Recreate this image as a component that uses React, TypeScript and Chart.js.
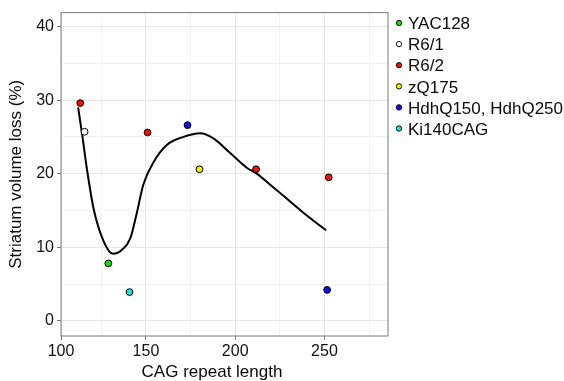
import React, { useEffect, useRef } from "react";
import { Chart, registerables } from "chart.js";

Chart.register(...registerables);

// ---- data ----
const seriesNames = ["YAC128", "R6/1", "R6/2", "zQ175", "HdhQ150, HdhQ250", "Ki140CAG"];
const seriesColors = ["#19d419", "#ffffff", "#ee1111", "#f2ee00", "#1010e0", "#22dede"];

const yac128Cag = [128.9];
const yac128Loss = [7.8];
const r61Cag = [115.6];
const r61Loss = [25.7];
const r62Cag = [113.2, 150.9, 211.7, 252.4];
const r62Loss = [29.6, 25.6, 20.6, 19.5];
const zq175Cag = [180.0];
const zq175Loss = [20.6];
const hdhCag = [173.3, 251.5];
const hdhLoss = [26.6, 4.2];
const ki140Cag = [140.8];
const ki140Loss = [3.9];

const fitCag = [112, 114.2, 117, 120.7, 126.3, 131.5, 136.6, 141.2, 145, 148.5, 154.3, 161.7, 171, 180.4, 187.8, 197.2, 206.5, 212, 219.6, 227, 238.2, 250.9];
const fitLoss = [29.0, 25.4, 20.5, 15.2, 10.8, 9.1, 9.65, 11.2, 14.8, 18.5, 21.6, 23.9, 25.0, 25.5, 24.8, 22.8, 20.8, 20.0, 18.5, 17.0, 14.7, 12.3];

const xTickValues = [100, 125, 150, 175, 200, 225, 250, 275];
const xTickLabels = ["100", "", "150", "", "200", "", "250", ""];
const yTickValues = [0, 5, 10, 15, 20, 25, 30, 35, 40];
const yTickLabels = ["0", "", "10", "", "20", "", "30", "", "40"];

const xTitle = "CAG repeat length";
const yTitle = "Striatum volume loss (%)";

const FONT = "'Liberation Sans', Arial, Helvetica, sans-serif";

const pts = (xs: number[], ys: number[]) => xs.map((x, i) => ({ x, y: ys[i] }));

export default function App() {
  const ref = useRef<HTMLCanvasElement | null>(null);

  useEffect(() => {
    const canvas = ref.current;
    if (!canvas) return;

    const groups = [
      pts(yac128Cag, yac128Loss),
      pts(r61Cag, r61Loss),
      pts(r62Cag, r62Loss),
      pts(zq175Cag, zq175Loss),
      pts(hdhCag, hdhLoss),
      pts(ki140Cag, ki140Loss),
    ];

    const scatterSets = groups.map((data, i) => ({
      type: "scatter" as const,
      label: seriesNames[i],
      data,
      backgroundColor: seriesColors[i],
      borderColor: "#000000",
      borderWidth: 1,
      pointRadius: 3.4,
      pointHoverRadius: 3.4,
    }));

    const fitSet = {
      type: "line" as const,
      label: "fit",
      data: pts(fitCag, fitLoss),
      borderColor: "#000000",
      borderWidth: 2,
      pointRadius: 0,
      fill: false,
      cubicInterpolationMode: "monotone" as const,
    };

    const frame = {
      id: "frame",
      beforeDatasetsDraw(chart: any) {
        const { ctx, chartArea: a } = chart;
        ctx.save();
        ctx.strokeStyle = "#7a7a7a";
        ctx.lineWidth = 1;
        ctx.strokeRect(a.left, a.top, a.right - a.left, a.bottom - a.top);
        ctx.restore();
      },
      afterDraw(chart: any) {
        const { ctx } = chart;
        ctx.save();
        // legend
        ctx.font = `17px ${FONT}`;
        ctx.textAlign = "left";
        ctx.textBaseline = "alphabetic";
        seriesNames.forEach((name, i) => {
          const cy = 23 + i * 21.1;
          ctx.beginPath();
          ctx.arc(399, cy, 2.7, 0, Math.PI * 2);
          ctx.fillStyle = seriesColors[i];
          ctx.fill();
          ctx.lineWidth = 0.9;
          ctx.strokeStyle = "#000000";
          ctx.stroke();
          ctx.fillStyle = "#0a0a0a";
          ctx.fillText(name, 408, cy + 6.2);
        });
        // x title
        ctx.textAlign = "center";
        ctx.fillText(xTitle, 212, 376.5);
        ctx.restore();
      },
    };

    const chart = new Chart(canvas, {
      data: { datasets: [...scatterSets, fitSet] as any },
      options: {
        animation: false,
        responsive: false,
        devicePixelRatio: 1,
        layout: { padding: { top: 7, right: 176, left: 0, bottom: 0 } },
        plugins: { legend: { display: false }, tooltip: { enabled: false } },
        scales: {
          x: {
            type: "linear",
            min: 102.4,
            max: 285.6,
            afterBuildTicks: (s: any) => {
              s.ticks = xTickValues.map((v) => ({ value: Math.max(v, s.min) }));
            },
            afterFit: (s: any) => {
              s.height = 45;
            },
            ticks: {
              autoSkip: false,
              maxRotation: 0,
              padding: 2,
              color: "#111111",
              font: { family: FONT, size: 16 },
              callback: (_v: any, i: number) => xTickLabels[i],
            },
            grid: {
              color: (c: any) => (c.index % 2 === 0 ? "#e6e6e6" : "#f3f3f3"),
              tickColor: (c: any) => (c.index % 2 === 0 ? "#7a7a7a" : "rgba(0,0,0,0)"),
              tickLength: 4,
              lineWidth: 1,
            },
            border: { display: false },
            title: { display: false },
          },
          y: {
            type: "linear",
            min: -2.07,
            max: 41.9,
            afterBuildTicks: (s: any) => {
              s.ticks = yTickValues.map((v) => ({ value: v }));
            },
            afterFit: (s: any) => {
              s.width = 61;
            },
            ticks: {
              autoSkip: false,
              padding: 3,
              color: "#111111",
              font: { family: FONT, size: 16 },
              callback: (_v: any, i: number) => yTickLabels[i],
            },
            grid: {
              color: (c: any) => (c.index % 2 === 0 ? "#e6e6e6" : "#f3f3f3"),
              tickColor: (c: any) => (c.index % 2 === 0 ? "#7a7a7a" : "rgba(0,0,0,0)"),
              tickLength: 4,
              lineWidth: 1,
            },
            border: { display: false },
            title: {
              display: true,
              text: yTitle,
              color: "#0a0a0a",
              font: { family: FONT, size: 17 },
              padding: { top: 6.5, bottom: 0 },
            },
          },
        },
      },
      plugins: [frame],
    } as any);

    return () => chart.destroy();
  }, []);

  return (
    <div style={{ position: "absolute", left: 0, top: 0, width: 564, height: 381, background: "#ffffff" }}>
      <canvas ref={ref} width={564} height={381} style={{ width: 564, height: 381, display: "block" }} />
    </div>
  );
}
